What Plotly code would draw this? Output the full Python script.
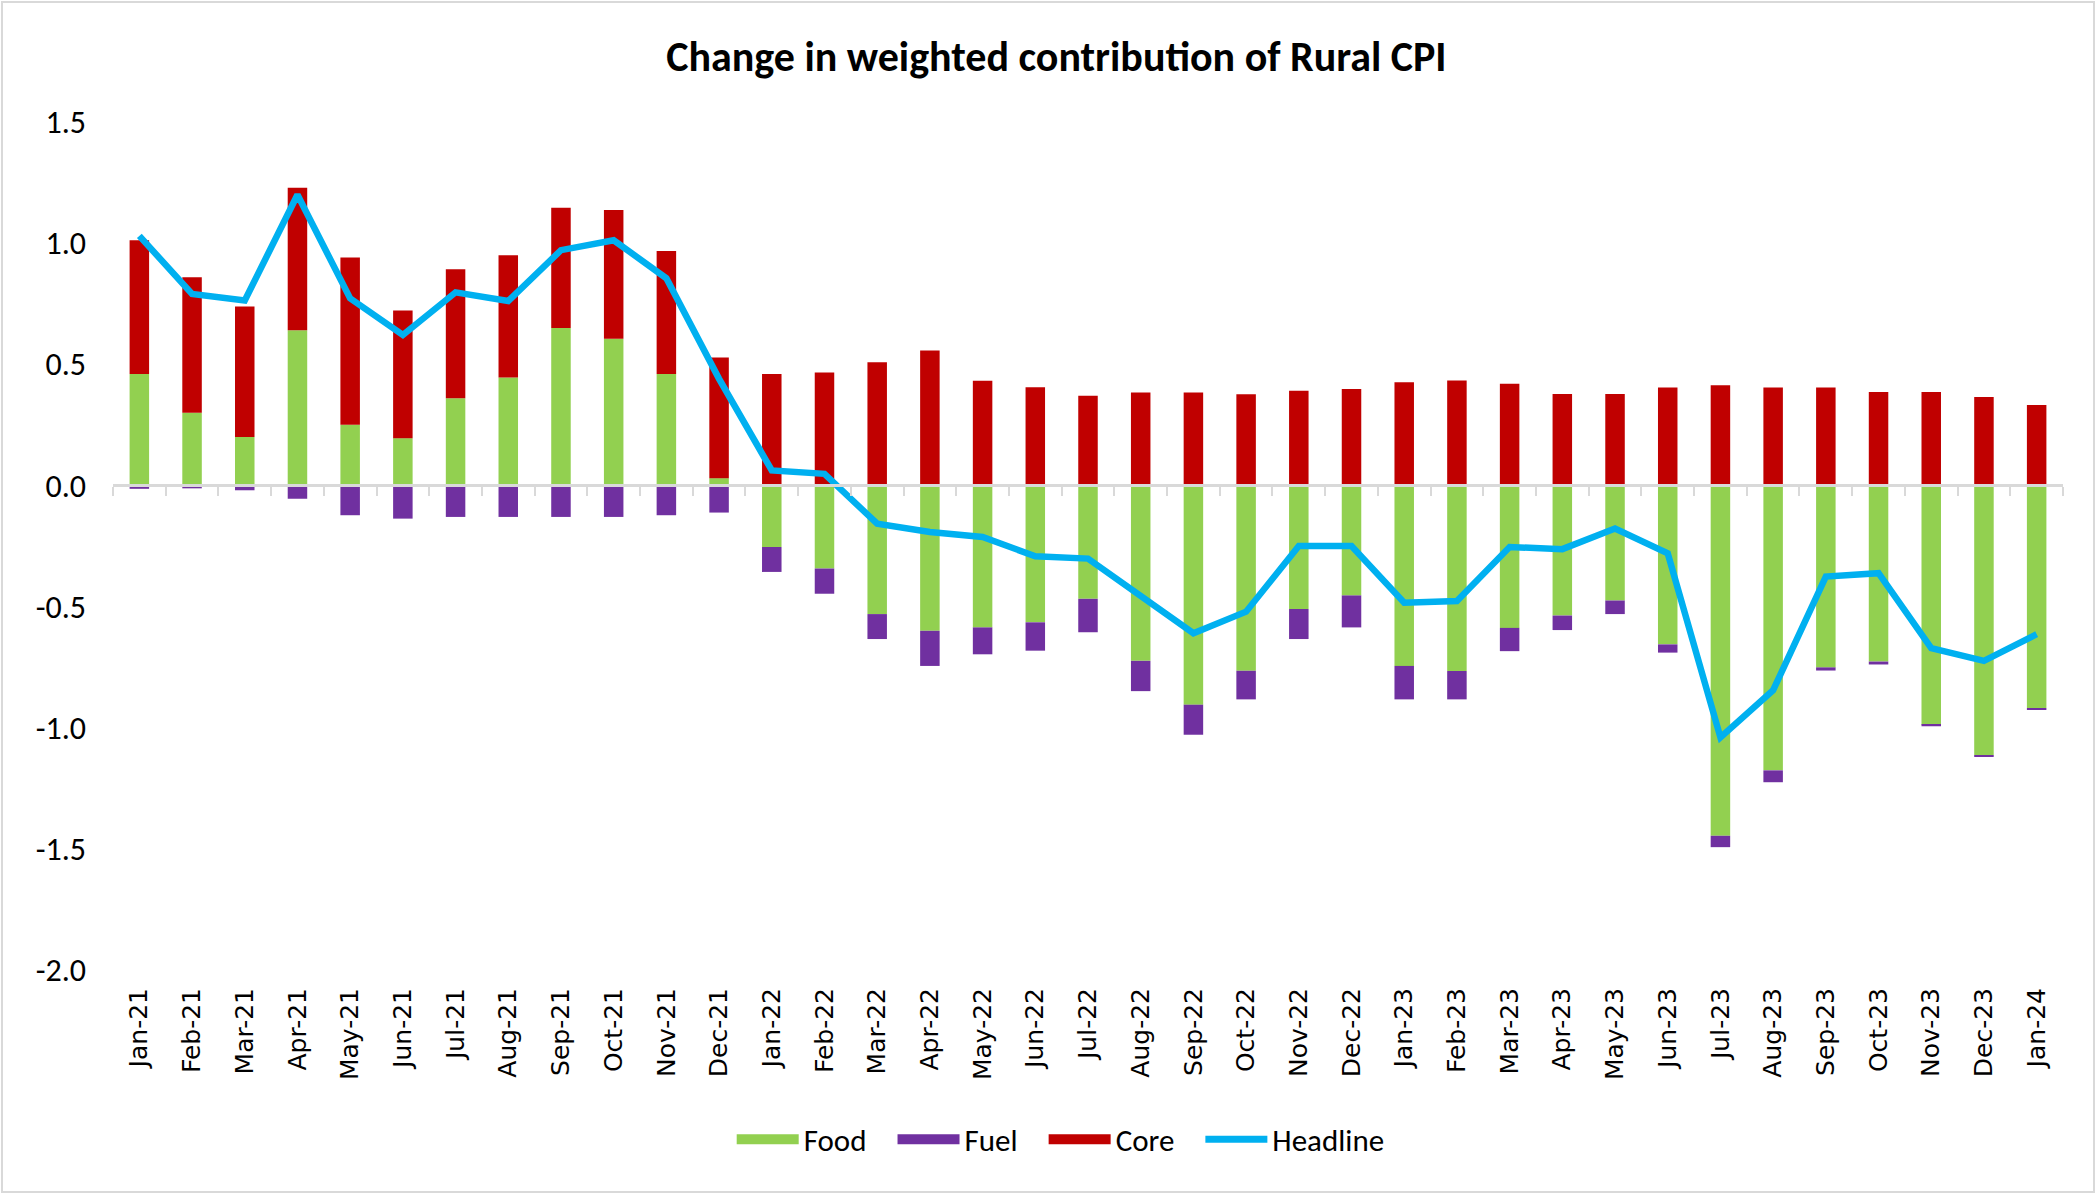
import plotly.graph_objects as go

months = ["Jan-21", "Feb-21", "Mar-21", "Apr-21", "May-21", "Jun-21", "Jul-21", "Aug-21",
          "Sep-21", "Oct-21", "Nov-21", "Dec-21", "Jan-22", "Feb-22", "Mar-22", "Apr-22",
          "May-22", "Jun-22", "Jul-22", "Aug-22", "Sep-22", "Oct-22", "Nov-22", "Dec-22",
          "Jan-23", "Feb-23", "Mar-23", "Apr-23", "May-23", "Jun-23", "Jul-23", "Aug-23",
          "Sep-23", "Oct-23", "Nov-23", "Dec-23", "Jan-24"]

food = [0.46, 0.30, 0.20, 0.64, 0.25, 0.195, 0.36, 0.445, 0.65, 0.605, 0.46, 0.03,
        -0.254, -0.343, -0.531, -0.600, -0.586, -0.565, -0.468, -0.724, -0.905, -0.765,
        -0.510, -0.454, -0.745, -0.766, -0.588, -0.537, -0.475, -0.656, -1.446, -1.176,
        -0.751, -0.727, -0.988, -1.114, -0.919]

fuel = [-0.014, -0.012, -0.020, -0.055, -0.123, -0.137, -0.130, -0.130, -0.130, -0.130,
        -0.123, -0.112, -0.103, -0.104, -0.103, -0.145, -0.111, -0.117, -0.138, -0.125,
        -0.124, -0.118, -0.124, -0.132, -0.138, -0.117, -0.096, -0.060, -0.056, -0.034,
        -0.047, -0.049, -0.013, -0.012, -0.006, -0.006, -0.006]

core = [0.552, 0.559, 0.539, 0.589, 0.691, 0.527, 0.532, 0.505, 0.496, 0.532, 0.508, 0.498,
        0.460, 0.466, 0.508, 0.557, 0.432, 0.405, 0.370, 0.384, 0.384, 0.376, 0.391, 0.398,
        0.426, 0.433, 0.420, 0.377, 0.377, 0.404, 0.413, 0.404, 0.404, 0.386, 0.386, 0.365,
        0.332]

headline = [1.03, 0.79, 0.763, 1.20, 0.772, 0.621, 0.797, 0.761, 0.971, 1.012, 0.855, 0.44,
            0.062, 0.048, -0.158, -0.192, -0.213, -0.292, -0.302, -0.453, -0.610, -0.521,
            -0.250, -0.250, -0.484, -0.477, -0.254, -0.263, -0.178, -0.280, -1.040, -0.845,
            -0.376, -0.362, -0.672, -0.724, -0.614]

y_ticks = [1.5, 1.0, 0.5, 0.0, -0.5, -1.0, -1.5, -2.0]
y_min, y_max = -2.0, 1.5

series_colors = {"Food": "#92D050", "Fuel": "#7030A0", "Core": "#C00000"}
headline_color = "#00B0F0"

W, H = 2096, 1194
L, R, T, B = 113, 33, 122, 224

cal = "Carlito, Lato, 'Open Sans', sans-serif"
pad = "\u00a0" * 3

fig = go.Figure()
for name, vals in (("Food", food), ("Fuel", fuel), ("Core", core)):
    fig.add_trace(go.Bar(x=months, y=vals, name=name, marker_color=series_colors[name],
                         marker_line_width=0, showlegend=False, legendgroup=name))
fig.add_trace(go.Scatter(x=months, y=headline, name="Headline", mode="lines",
                         line=dict(color=headline_color, width=6.5), showlegend=False,
                         legendgroup="Headline"))

# legend proxies (wide rectangles like the original legend keys)
for name in ("Food", "Fuel", "Core"):
    fig.add_trace(go.Scatter(x=[None], y=[None], mode="lines", name=name + pad,
                             line=dict(color=series_colors[name], width=20),
                             legendgroup=name, hoverinfo="skip"))
fig.add_trace(go.Scatter(x=[None], y=[None], mode="lines", name="Headline",
                         line=dict(color=headline_color, width=7),
                         legendgroup="Headline", hoverinfo="skip"))

n = len(months)
fig.update_layout(
    width=W, height=H,
    margin=dict(l=L, r=R, t=T, b=B),
    paper_bgcolor="white", plot_bgcolor="white",
    barmode="relative", bargap=0.63,
    title=dict(text="<b>Change in weighted contribution of Rural CPI</b>",
               x=0.504, xanchor="center", y=1 - 56 / H, yanchor="middle",
               font=dict(family=cal, size=42, color="black")),
    font=dict(family=cal, color="#000000"),
    showlegend=True,
    legend=dict(orientation="h", x=0.486, xanchor="center", y=-0.2, yanchor="middle",
                font=dict(family=cal, size=31, color="#000000"),
                itemwidth=62, traceorder="normal", bgcolor="rgba(0,0,0,0)"),
    xaxis=dict(type="category", categoryorder="array", categoryarray=months,
               range=[-0.5, n - 0.5], showgrid=False, showline=False, ticks="",
               tickangle=-90, ticklabelstandoff=12,
               tickfont=dict(family="DejaVu Sans", size=25, color="#000000"),
               zeroline=False),
    xaxis2=dict(overlaying="x", anchor="free", position=(0 - y_min) / (y_max - y_min),
                range=[-0.5, n - 0.5], tickmode="array",
                tickvals=[i - 0.5 for i in range(n + 1)], ticks="outside", ticklen=9,
                tickwidth=2, tickcolor="#d9d9d9", showline=True, linecolor="#d9d9d9",
                linewidth=3, showticklabels=False, showgrid=False, zeroline=False,
                fixedrange=True),
    yaxis=dict(range=[y_min, y_max], tickmode="array", tickvals=y_ticks,
               ticktext=[f"{v:.1f}" for v in y_ticks], showgrid=False, zeroline=False,
               showline=False, ticks="", ticklabelstandoff=26,
               tickfont=dict(family=cal, size=32, color="#000000")),
)

# invisible helper trace so the zero-line axis is rendered
fig.add_trace(go.Scatter(x=[-0.5, n - 0.5], y=[0, 0], xaxis="x2", mode="lines",
                         line=dict(width=0, color="rgba(0,0,0,0)"), showlegend=False,
                         hoverinfo="skip"))

# outer chart border
pw = W - L - R
ph = H - T - B
fig.add_shape(type="rect", xref="paper", yref="paper",
              x0=(2 - L) / pw, x1=(W - 2 - L) / pw,
              y0=-(H - 2 - T - ph) / ph, y1=1 + (T - 2) / ph,
              line=dict(color="#d9d9d9", width=2), fillcolor="rgba(0,0,0,0)", layer="below")

fig.write_html("out.html", config={"displayModeBar": False},
               post_script="document.body.style.margin='0';document.body.style.overflow='hidden';")
